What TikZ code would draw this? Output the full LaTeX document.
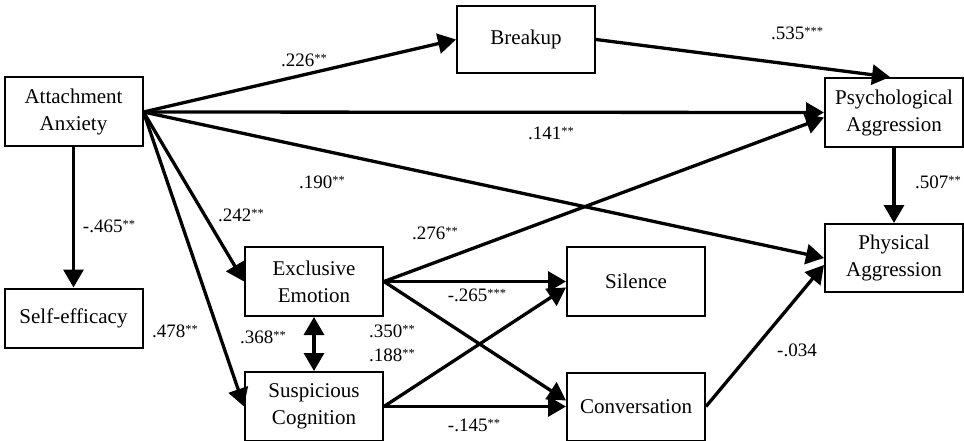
\documentclass[tikz,border=0pt]{standalone}
\usepackage{fontspec}
\setmainfont{Liberation Serif}
\usetikzlibrary{arrows.meta, positioning}

\newcommand{\sig}[1]{\raisebox{4pt}{\fontsize{12.5}{12.5}\selectfont #1}}

\begin{document}
\begin{tikzpicture}[
    x=1pt, y=-1pt,
    var/.style={
        rectangle, draw=black, line width=2pt, fill=white,
        minimum width=138pt, minimum height=69pt, inner sep=2pt,
        align=center, font=\fontsize{21}{27}\selectfont
    },
    coef/.style={font=\fontsize{19}{22}\selectfont, inner sep=0pt},
    arr/.style={-{Triangle[length=18pt, width=20pt]}, line width=3.3pt},
    dbl/.style={{Triangle[length=18pt, width=20pt]}-{Triangle[length=18pt, width=20pt]}, line width=3.3pt}
]
\useasboundingbox (0,0) rectangle (964,441);

% Predictor and outcome boxes
\node[var] (anx) at (73.5,112) {Attachment\\Anxiety};
\node[var, minimum height=59pt, below=140pt of anx] (self) {Self-efficacy};
\node[var, minimum height=67pt] (brk) at (526,39.5) {Breakup};
\node[var] (psy) at (894,112.5) {Psychological\\Aggression};
\node[var, minimum height=68pt, below=75pt of psy] (phy) {Physical\\Aggression};

% Mediators
\node[var] (excl) at (314,281.5) {Exclusive\\Emotion};
\node[var, below=54pt of excl] (susp) {Suspicious\\Cognition};
\node[var, right=182pt of excl] (sil) {Silence};
\node[var, minimum height=68pt, right=182pt of susp] (conv) {Conversation};

% Paths from attachment anxiety
\draw[arr] (anx.east) -- (brk.west);
\draw[arr] (anx.east) -- (psy.west);
\draw[arr] (anx.east) -- (phy.west);
\draw[arr] (anx.east) -- (excl.west);
\draw[arr] (anx.east) -- (susp.west);
\draw[arr] (anx.south) -- (self.north);

% Paths to aggression
\draw[arr] (brk.east) -- ([xshift=-4pt]psy.north);
\draw[arr] (psy.south) -- (phy.north);
\draw[arr] (excl.east) -- ([yshift=-5pt]psy.west);
\draw[arr] (conv.east) -- ([yshift=-7pt]phy.west);

% Mediator paths
\draw[arr] (excl.east) -- (sil.west);
\draw[arr] (excl.east) -- ([yshift=6pt]conv.west);
\draw[arr] (susp.east) -- ([yshift=-6pt]sil.west);
\draw[arr] (susp.east) -- (conv.west);
\draw[dbl] (excl.south) -- (susp.north);

% Coefficients
\node[coef] (c226) at (304,60) {.226\sig{**}};
\node[coef] (c535) at (797,33) {.535\sig{***}};
\node[coef] (c141) at (551,133) {.141\sig{**}};
\node[coef] (c190) at (322,182) {.190\sig{**}};
\node[coef] (c242) at (241,215) {.242\sig{**}};
\node[coef] (c465) at (109,226) {-.465\sig{**}};
\node[coef] (c478) at (175,331) {.478\sig{**}};
\node[coef] (c368) at (263,337) {.368\sig{**}};
\node[coef] (c350) at (392,331) {.350\sig{**}};
\node[coef] (c188) at (392,355) {.188\sig{**}};
\node[coef] (c276) at (435,233) {.276\sig{**}};
\node[coef] (c265) at (477,295) {-.265\sig{***}};
\node[coef] (c145) at (474,425) {-.145\sig{**}};
\node[coef] (c507) at (938,182) {.507\sig{**}};
\node[coef] (c034) at (797,350) {-.034};

\end{tikzpicture}
\end{document}
